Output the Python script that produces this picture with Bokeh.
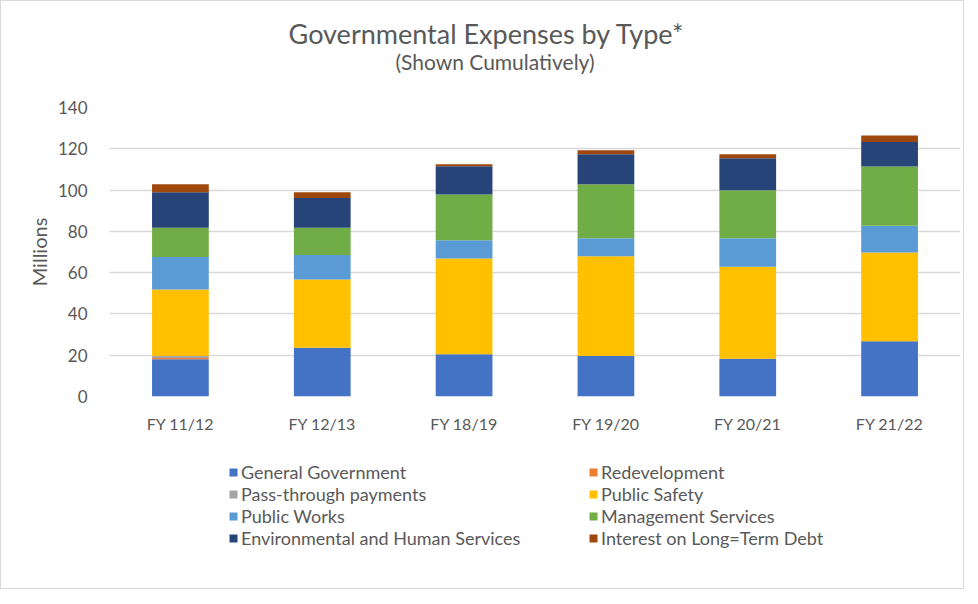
from bokeh.plotting import figure
from bokeh.layouts import column
from bokeh.models import Range1d, FactorRange, FixedTicker, Legend, LegendItem, Div
from bokeh.embed import file_html
from bokeh.resources import INLINE

categories = ["FY 11/12", "FY 12/13", "FY 18/19", "FY 19/20", "FY 20/21", "FY 21/22"]
general_government = [18.0, 23.6, 20.5, 19.6, 18.3, 26.8]
redevelopment = [0.6, 0.0, 0.0, 0.0, 0.0, 0.0]
pass_through = [1.0, 0.0, 0.0, 0.0, 0.0, 0.0]
public_safety = [32.2, 33.1, 46.3, 48.4, 44.5, 42.9]
public_works = [15.8, 11.9, 8.9, 8.7, 13.9, 13.0]
management_services = [14.2, 13.2, 22.1, 26.1, 23.2, 28.7]
env_human_services = [17.2, 14.3, 13.8, 14.6, 15.5, 11.9]
interest_debt = [3.8, 2.9, 0.9, 1.9, 2.0, 3.1]
y_ticks = [0, 20, 40, 60, 80, 100, 120, 140]

title_text = "Governmental Expenses by Type*"
subtitle_text = "(Shown Cumulatively)"
series_names = ["General Government", "Redevelopment", "Pass-through payments", "Public Safety",
                "Public Works", "Management Services", "Environmental and Human Services",
                "Interest on Long=Term Debt"]
series_values = [general_government, redevelopment, pass_through, public_safety,
                 public_works, management_services, env_human_services, interest_debt]
colors = ["#4472C4", "#ED7D31", "#A5A5A5", "#FFC000", "#5B9BD5", "#70AD47", "#264478", "#9E480E"]

FONT = "Lato"
TXT = "#595959"
W = 962

# ---- title block ----
title_html = (
    '<div style="position:relative;width:%dpx;height:89px;font-family:Lato;color:%s;">'
    '<div style="position:absolute;left:0;top:20.6px;width:%dpx;text-align:center;white-space:nowrap;'
    'font-size:27px;line-height:0.9;padding-left:8px;box-sizing:border-box;">%s</div>'
    '<div style="position:absolute;left:0;top:52.3px;width:%dpx;text-align:center;white-space:nowrap;'
    'font-size:21px;line-height:0.9;padding-left:26px;box-sizing:border-box;">%s</div>'
    '</div>' % (W, TXT, W, title_text, W, subtitle_text)
)
title_div = Div(text=title_html, width=W, height=89, margin=0)

# ---- main chart ----
keys = ["s%d" % i for i in range(len(series_names))]
data = {"x": categories}
for k, v in zip(keys, series_values):
    data[k] = v

p = figure(x_range=FactorRange(*categories, range_padding=0), y_range=Range1d(0, 140),
           width=W, height=362, output_backend="svg", toolbar_location=None,
           min_border_left=108, min_border_right=3, min_border_top=17, min_border_bottom=56,
           margin=0)

renderers = p.vbar_stack(keys, x="x", width=0.4, color=colors, line_color=None, source=data)

p.outline_line_color = None
p.xgrid.grid_line_color = None
p.ygrid.grid_line_color = "#d9d9d9"
p.ygrid.grid_line_width = 1.3
p.yaxis.ticker = FixedTicker(ticks=y_ticks)

for ax in (p.xaxis[0], p.yaxis[0]):
    ax.axis_line_color = None
    ax.major_tick_line_color = None
    ax.minor_tick_line_color = None
    ax.major_label_text_font = FONT
    ax.major_label_text_color = TXT

p.xaxis.major_label_text_font_size = "16px"
p.yaxis.major_label_text_font_size = "17px"
p.xaxis.major_label_standoff = 11
p.yaxis.major_label_standoff = 16
p.yaxis.axis_label = "Millions"
p.yaxis.axis_label_text_font = FONT
p.yaxis.axis_label_text_font_size = "20px"
p.yaxis.axis_label_text_font_style = "normal"
p.yaxis.axis_label_text_color = TXT
p.yaxis.axis_label_standoff = 4

# ---- legend block (zero-size proxy glyphs carry the series colours) ----
pl = figure(width=W, height=136, output_backend="svg", toolbar_location=None,
            x_axis_location=None, y_axis_location=None, min_border=0, margin=0,
            x_range=Range1d(0, 1), y_range=Range1d(0, 1))
pl.outline_line_color = None
pl.xgrid.grid_line_color = None
pl.ygrid.grid_line_color = None
proxies = [pl.vbar(x=[0], top=[0], bottom=[0], width=0, color=c, line_color=None) for c in colors]

items = [LegendItem(label=n, renderers=[r]) for n, r in zip(series_names, proxies)]
legend = Legend(items=items, orientation="horizontal", ncols=2, location=(119, 39),
                label_text_font=FONT, label_text_font_size="18px", label_text_color=TXT,
                glyph_width=10, glyph_height=10, label_height=20, label_standoff=3,
                spacing=0, padding=0, margin=0, border_line_color=None,
                background_fill_alpha=0, label_width=347)
pl.add_layout(legend, "center")

layout = column(title_div, p, pl, spacing=0, styles={"border": "1px solid #d9d9d9"})

open("out.html", "w").write(file_html(layout, INLINE))
